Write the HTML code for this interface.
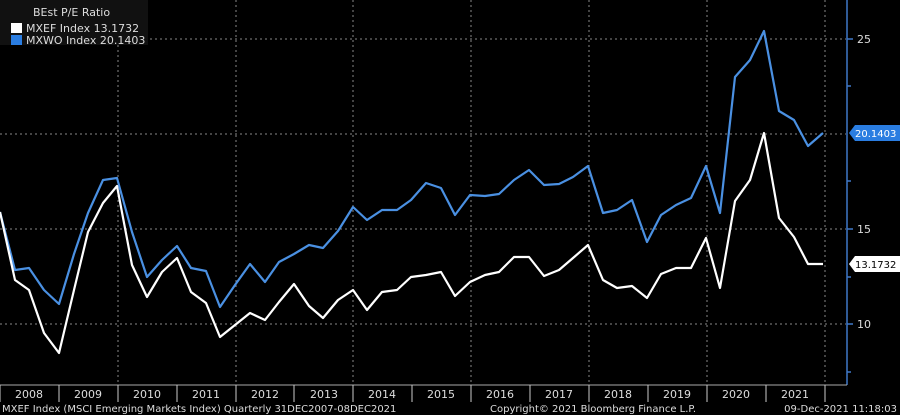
<!DOCTYPE html>
<html><head><meta charset="utf-8"><style>
html,body{margin:0;padding:0;background:#000;width:900px;height:415px;overflow:hidden}
text{font-family:"DejaVu Sans","Liberation Sans",sans-serif}
</style></head><body>
<svg width="900" height="415" viewBox="0 0 900 415" xmlns="http://www.w3.org/2000/svg">
<rect width="900" height="415" fill="#000"/>
<g stroke="#888" stroke-width="1" stroke-dasharray="2,3">
<line x1="0" y1="39" x2="846" y2="39"/>
<line x1="0" y1="134" x2="846" y2="134"/>
<line x1="0" y1="229" x2="846" y2="229"/>
<line x1="0" y1="324" x2="846" y2="324"/>
<line x1="118" y1="0" x2="118" y2="384"/>
<line x1="236" y1="0" x2="236" y2="384"/>
<line x1="353" y1="0" x2="353" y2="384"/>
<line x1="471" y1="0" x2="471" y2="384"/>
<line x1="589" y1="0" x2="589" y2="384"/>
<line x1="707" y1="0" x2="707" y2="384"/>
<line x1="825" y1="0" x2="825" y2="384"/>
</g>
<rect x="0" y="0" width="148" height="45" fill="#111"/>
<text x="33" y="16" fill="#ddd" font-size="11">BEst P/E Ratio</text>
<rect x="11" y="23" width="11" height="10" fill="#fff"/>
<text x="26" y="32" fill="#ddd" font-size="11">MXEF Index  13.1732</text>
<rect x="11" y="35" width="11" height="10" fill="#2a7de1"/>
<text x="26" y="44" fill="#ddd" font-size="11">MXWO Index 20.1403</text>
<polyline fill="none" stroke="#4a90e2" stroke-width="2.2" stroke-linejoin="round" points="0,212 15,270 29,268 44,290 59,304 74,254 88,213 103,180 117,178 132,232 147,277 162,260 177,246 191,268 206,271 220,307 235,285 250,264 265,282 279,262 294,254 309,245 323,248 338,231 353,207 367,220 382,210 397,210 411,200 426,183 441,188 455,215 470,195 485,196 499,194 514,180 529,170 544,185 559,184 573,177 588,166 603,213 617,210 632,200 647,242 661,215 676,205 691,198 706,166 720,213 735,77 750,60 764,31 779,111 794,120 808,146 823,133"/>
<polyline fill="none" stroke="#fff" stroke-width="2.2" stroke-linejoin="round" points="0,212 15,280 29,290 44,333 59,353 74,290 88,232 103,203 117,186 132,265 147,297 162,272 177,258 191,292 206,303 220,337 235,325 250,313 265,320 279,302 294,284 309,306 323,318 338,300 353,290 367,310 382,292 397,290 411,277 426,275 441,272 455,296 470,282 485,275 499,272 514,257 529,257 544,276 559,270 573,258 588,245 603,280 617,288 632,286 647,298 661,274 676,268 691,268 706,238 720,288 735,201 750,180 764,133 779,218 794,237 808,264 823,264"/>
<line x1="847" y1="0" x2="847" y2="385" stroke="#3f78c8" stroke-width="1.5"/>
<line x1="0" y1="385" x2="847" y2="385" stroke="#aaa" stroke-width="1"/>
<g stroke="#3f78c8" stroke-width="1.5">
<line x1="847" y1="39" x2="853" y2="39"/><line x1="847" y1="86" x2="851" y2="86"/>
<line x1="847" y1="181" x2="851" y2="181"/><line x1="847" y1="229" x2="853" y2="229"/>
<line x1="847" y1="277" x2="851" y2="277"/><line x1="847" y1="324" x2="853" y2="324"/>
<line x1="847" y1="372" x2="851" y2="372"/>
</g>
<g fill="#ddd" font-size="11">
<text x="857" y="43">25</text><text x="857" y="233">15</text><text x="857" y="328">10</text>
</g>
<path d="M849,133 L855,125 L900,125 L900,141 L855,141 Z" fill="#2a7de1"/>
<text x="855" y="137" fill="#fff" font-size="10">20.1403</text>
<path d="M849,264 L855,256 L900,256 L900,272 L855,272 Z" fill="#fff"/>
<text x="855" y="268" fill="#000" font-size="10">13.1732</text>
<g stroke="#ccc" stroke-width="1">
<line x1="0" y1="385" x2="0" y2="402"/><line x1="59" y1="385" x2="59" y2="402"/><line x1="118" y1="385" x2="118" y2="402"/>
<line x1="177" y1="385" x2="177" y2="402"/><line x1="236" y1="385" x2="236" y2="402"/><line x1="294" y1="385" x2="294" y2="402"/>
<line x1="353" y1="385" x2="353" y2="402"/><line x1="412" y1="385" x2="412" y2="402"/><line x1="471" y1="385" x2="471" y2="402"/>
<line x1="530" y1="385" x2="530" y2="402"/><line x1="589" y1="385" x2="589" y2="402"/><line x1="648" y1="385" x2="648" y2="402"/>
<line x1="707" y1="385" x2="707" y2="402"/><line x1="766" y1="385" x2="766" y2="402"/><line x1="825" y1="385" x2="825" y2="402"/>
</g>
<g fill="#ddd" font-size="11" text-anchor="middle">
<text x="29" y="398">2008</text><text x="88" y="398">2009</text><text x="147" y="398">2010</text><text x="206" y="398">2011</text>
<text x="265" y="398">2012</text><text x="324" y="398">2013</text><text x="382" y="398">2014</text><text x="441" y="398">2015</text>
<text x="500" y="398">2016</text><text x="559" y="398">2017</text><text x="618" y="398">2018</text><text x="677" y="398">2019</text>
<text x="736" y="398">2020</text><text x="795" y="398">2021</text>
</g>
<g fill="#ddd" font-size="10">
<text x="2" y="412">MXEF Index (MSCI Emerging Markets Index)  Quarterly 31DEC2007-08DEC2021</text>
<text x="490" y="412">Copyright© 2021 Bloomberg Finance L.P.</text>
<text x="897" y="412" text-anchor="end">09-Dec-2021 11:18:03</text>
</g>
</svg>
</body></html>
